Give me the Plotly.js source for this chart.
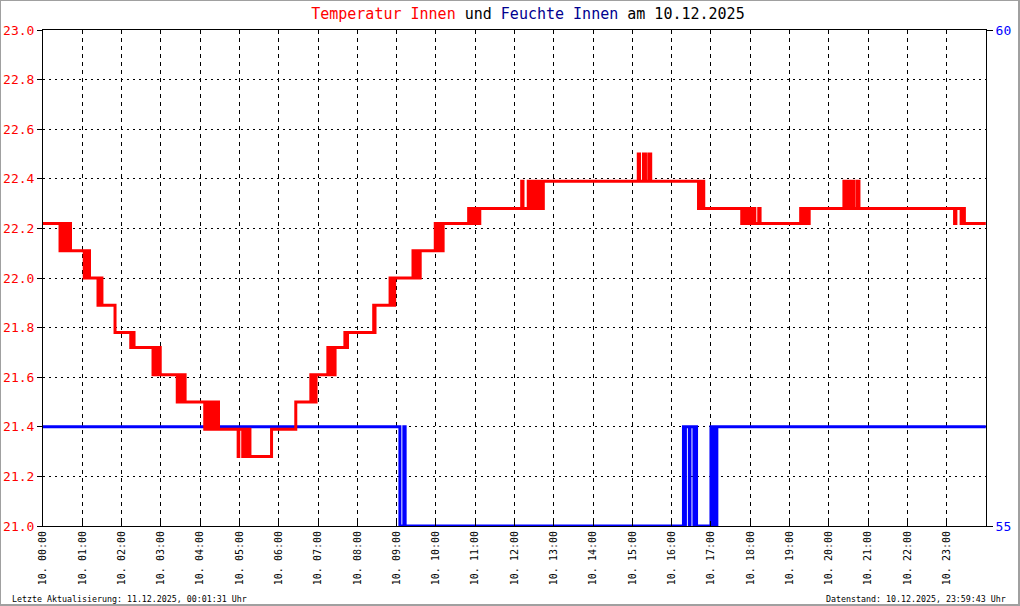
<!DOCTYPE html>
<html>
<head>
<meta charset="utf-8">
<script src="https://cdn.plot.ly/plotly-3.0.1.min.js"></script>
<style>
  html, body { margin: 0; padding: 0; background: #fff; }
  #wrap { position: relative; width: 1020px; height: 606px; }
  #chart { position: absolute; left: 0; top: 0; width: 1020px; height: 606px; }
  #frame { position: absolute; left: 0; top: 0; width: 1020px; height: 606px; box-sizing: border-box;
           border-top: 1px solid #a0a0a0; border-left: 1px solid #a0a0a0;
           border-right: 2px solid #a0a0a0; border-bottom: 2px solid #a0a0a0; pointer-events: none; }
</style>
</head>
<body>
<div id="wrap"><div id="chart"></div><div id="frame"></div></div>
<script>
// ---- data (10.12.2025) ----
const day = "2025-12-10";

// Temperatur Innen (°C): change points, step-wise
const tempTime = [
  "00:00","00:26","00:28","00:32","00:34","00:38","00:40","00:42",
  "01:03","01:04","01:06","01:07","01:09","01:10","01:11",
  "01:24","01:25","01:27","01:28","01:30",
  "01:50",
  "02:14","02:16","02:19",
  "02:48","02:50","02:53","02:54","02:56","02:57","02:59",
  "03:25","03:27","03:29","03:31","03:33","03:35","03:37",
  "04:07","04:09","04:12","04:14","04:17","04:18","04:21","04:23","04:25","04:26","04:28",
  "04:58","04:59",
  "05:05","05:06","05:09","05:10","05:13","05:14","05:16",
  "05:49",
  "06:26",
  "06:49","06:50","06:53","06:54","06:57",
  "07:15","07:16","07:19","07:20","07:23","07:24","07:26",
  "07:41","07:42","07:45",
  "08:25","08:26","08:27",
  "08:50","08:51","08:54","08:55","08:57",
  "09:25","09:26","09:29","09:30","09:33","09:34","09:36",
  "09:59","10:01","10:04","10:05","10:08","10:09","10:11",
  "10:50","10:52","10:56","10:57","11:01","11:02","11:05","11:06","11:07",
  "12:11","12:13",
  "12:21","12:23","12:25","12:27","12:31","12:33","12:36","12:37","12:40","12:41","12:44",
  "15:09","15:11","15:17","15:20","15:25","15:28",
  "16:41","16:42","16:45","16:46","16:49",
  "17:47","17:48","17:51","17:53","17:56","17:58","18:01","18:03","18:07",
  "18:13","18:15",
  "19:17","19:18","19:21","19:22","19:25","19:27","19:30",
  "20:23","20:25","20:27","20:29","20:32","20:34","20:36","20:38","20:43","20:46",
  "23:12","23:14","23:22","23:24","23:27",
  "23:59:43"
];
const tempValue = [
  22.22,22.11,22.22,22.11,22.22,22.11,22.22,22.11,
  22.00,22.11,22.00,22.11,22.00,22.11,22.00,
  21.89,22.00,21.89,22.00,21.89,
  21.78,
  21.72,21.78,21.72,
  21.61,21.72,21.61,21.72,21.61,21.72,21.61,
  21.50,21.61,21.50,21.61,21.50,21.61,21.50,
  21.39,21.50,21.39,21.50,21.39,21.50,21.39,21.50,21.39,21.50,21.39,
  21.28,21.39,
  21.28,21.39,21.28,21.39,21.28,21.39,21.28,
  21.39,
  21.50,
  21.61,21.50,21.61,21.50,21.61,
  21.72,21.61,21.72,21.61,21.72,21.61,21.72,
  21.78,21.72,21.78,
  21.89,21.78,21.89,
  22.00,21.89,22.00,21.89,22.00,
  22.11,22.00,22.11,22.00,22.11,22.00,22.11,
  22.22,22.11,22.22,22.11,22.22,22.11,22.22,
  22.28,22.22,22.28,22.22,22.28,22.22,22.28,22.22,22.28,
  22.39,22.28,
  22.39,22.28,22.39,22.28,22.39,22.28,22.39,22.28,22.39,22.28,22.39,
  22.50,22.39,22.50,22.39,22.50,22.39,
  22.28,22.39,22.28,22.39,22.28,
  22.22,22.28,22.22,22.28,22.22,22.28,22.22,22.28,22.22,
  22.28,22.22,
  22.28,22.22,22.28,22.22,22.28,22.22,22.28,
  22.39,22.28,22.39,22.28,22.39,22.28,22.39,22.28,22.39,22.28,
  22.22,22.28,22.22,22.28,22.22,
  22.22
];

// Feuchte Innen (%): change points, step-wise
const humTime = [
  "00:00","09:05","09:11","09:13",
  "16:18","16:20","16:21","16:27","16:28","16:34","16:35","16:38",
  "17:00","17:01","17:03","17:04","17:06","17:07","17:09",
  "23:59:43"
];
const humValue = [
  56,55,56,55,
  56,55,56,55,56,55,56,55,
  56,55,56,55,56,55,56,
  56
];

// axis ticks
const hourTicks = ["00","01","02","03","04","05","06","07","08","09","10","11",
                   "12","13","14","15","16","17","18","19","20","21","22","23"];
const tempTicks = [21.0,21.2,21.4,21.6,21.8,22.0,22.2,22.4,22.6,22.8,23.0];
const humTicks = [55,60];

const titleHtml = '<span style="color:#ff0000">Temperatur Innen</span> und ' +
                  '<span style="color:#000090">Feuchte Innen</span> am 10.12.2025';
const footLeft = "Letzte Aktualisierung: 11.12.2025, 00:01:31 Uhr";
const footRight = "Datenstand: 10.12.2025, 23:59:43 Uhr";

// ---- chart ----
const mono = "DejaVu Sans Mono, monospace";
const toX = t => day + " " + t;

const humTrace = {
  x: humTime.map(toX), y: humValue, type: "scatter", mode: "lines",
  line: {color: "#0000ff", width: 3, shape: "hv"},
  xaxis: "x", yaxis: "y", hoverinfo: "skip", showlegend: false
};
const tempTrace = {
  x: tempTime.map(toX), y: tempValue, type: "scatter", mode: "lines",
  line: {color: "#ff0000", width: 3, shape: "hv"},
  xaxis: "x", yaxis: "y2", hoverinfo: "skip", showlegend: false
};

const layout = {
  width: 1020, height: 606,
  paper_bgcolor: "#ffffff", plot_bgcolor: "#ffffff",
  margin: {l: 43, r: 34, t: 30, b: 80, pad: 0},
  showlegend: false,
  font: {family: mono, color: "#000000", size: 12},
  title: {
    text: titleHtml, font: {family: mono, size: 15, color: "#000000"},
    x: 0.5176, xref: "container", xanchor: "center",
    y: 0.977, yref: "container", yanchor: "middle"
  },
  xaxis: {
    type: "date",
    range: [day + " 00:00", "2025-12-11 00:00"],
    tickmode: "array",
    tickvals: hourTicks.map(h => day + " " + h + ":00"),
    ticktext: hourTicks.map(h => "10. " + h + ":00"),
    tickangle: -90,
    tickfont: {family: mono, size: 10, color: "#000000"},
    ticks: "inside", ticklen: 5, tickcolor: "#000000", tickwidth: 1,
    showgrid: true, gridcolor: "#000000", gridwidth: 1, griddash: "4px,4px",
    showline: true, linecolor: "#000000", linewidth: 1, mirror: true,
    zeroline: false, fixedrange: true
  },
  yaxis: {
    range: [55, 60], side: "right",
    tickmode: "array", tickvals: humTicks, ticktext: humTicks.map(String),
    tickfont: {family: mono, size: 13, color: "#0000ff"},
    ticks: "outside", ticklen: 6, tickcolor: "#000000", tickwidth: 1,
    showgrid: false, showline: true, linecolor: "#000000", linewidth: 1,
    zeroline: false, fixedrange: true
  },
  yaxis2: {
    range: [21.0, 23.0], side: "left", overlaying: "y",
    tickmode: "array", tickvals: tempTicks, ticktext: tempTicks.map(v => v.toFixed(1)),
    tickfont: {family: mono, size: 13, color: "#ff0000"},
    ticks: "outside", ticklen: 5, tickcolor: "#000000", tickwidth: 1,
    showgrid: true, gridcolor: "#000000", gridwidth: 1, griddash: "2px,4px",
    showline: true, linecolor: "#000000", linewidth: 1,
    zeroline: false, fixedrange: true
  },
  annotations: [
    {text: footLeft, xref: "paper", yref: "paper", x: -0.035, y: -0.147,
     xanchor: "left", yanchor: "middle", showarrow: false,
     font: {family: mono, size: 8.3, color: "#000000"}},
    {text: footRight, xref: "paper", yref: "paper", x: 1.0233, y: -0.147,
     xanchor: "right", yanchor: "middle", showarrow: false,
     font: {family: mono, size: 8.3, color: "#000000"}}
  ]
};

Plotly.newPlot("chart", [humTrace, tempTrace], layout, {displayModeBar: false, staticPlot: true});
</script>
</body>
</html>
